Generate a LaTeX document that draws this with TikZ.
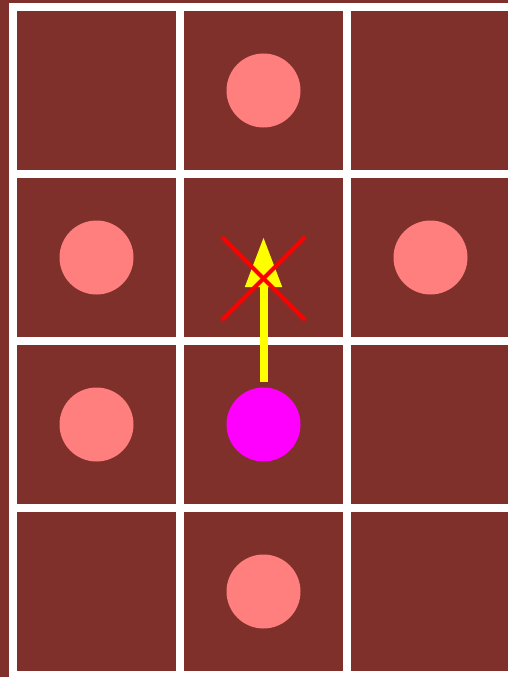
\documentclass[tikz,border=0pt]{standalone}
\usetikzlibrary{arrows.meta}

\definecolor{wallbrown}{RGB}{127,48,43}
\definecolor{dotpink}{RGB}{255,127,127}
\definecolor{pacmagenta}{RGB}{255,0,255}
\definecolor{moveyellow}{RGB}{255,255,0}

\begin{document}
\begin{tikzpicture}[
    x=1pt, y=-1pt,
    cell/.style={fill=wallbrown},
    food/.style={
      circle,
      fill=dotpink,
      minimum size=74pt,
      inner sep=0pt
    },
    agent/.style={
      circle,
      fill=pacmagenta,
      minimum size=74pt,
      inner sep=0pt
    },
    move/.style={-{Triangle[length=50pt, width=35pt]}, moveyellow, line width=8pt},
    cross/.style={red, line width=4pt}
  ]

  % ===================== background / grid =====================
  \clip (0,0) rectangle (508,677);
  \useasboundingbox (0,0) rectangle (508,677);
  \fill[wallbrown] (0,0) rectangle (508,677);
  \fill[white] (9,3) rectangle (508,677);
  \foreach \i in {0,1,2}
    \foreach \j in {0,...,3}
      \fill[cell] (17+167*\i, 11+167*\j) rectangle ++(159,159);

  % ===================== dots =====================
  \node[food] (f10) at (263.5,90.5) {};
  \node[food] (f01) at (96.5,257.5) {};
  \node[food] (f21) at (430.5,257.5) {};
  \node[food] (f02) at (96.5,424.5) {};
  \node[food] (f13) at (263.5,591.5) {};

  % ===================== agent and move =====================
  \node[agent] (pac) at (263.5,424.5) {};
  \coordinate (goal) at (263.5,237);
  \draw[move] ([yshift=5pt]pac.north) -- (goal);

  % ===================== blocked =====================
  \draw[cross] (222,237) -- (305,320);
  \draw[cross] (305,237) -- (222,320);

\end{tikzpicture}
\end{document}
